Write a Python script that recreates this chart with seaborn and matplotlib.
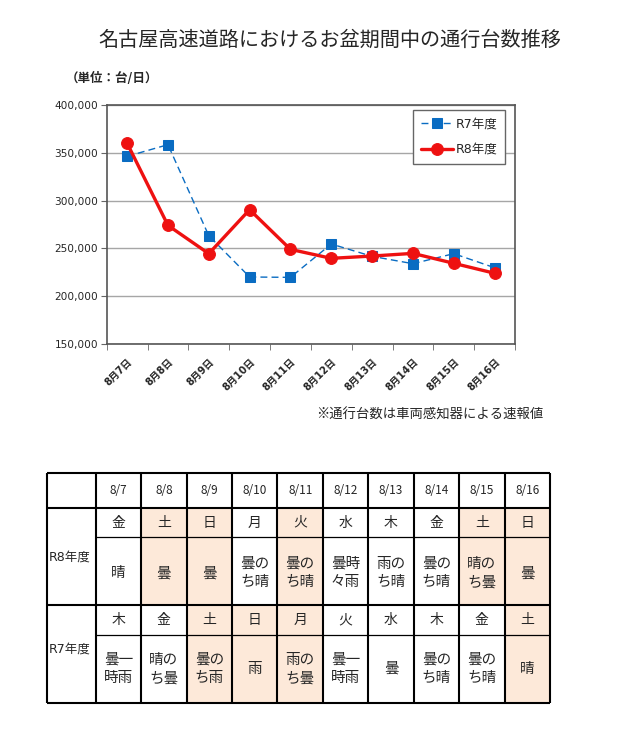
import matplotlib
matplotlib.use("Agg")
import matplotlib.pyplot as plt
import numpy as np
import seaborn as sns

# chart data
dates = ['8月7日', '8月8日', '8月9日', '8月10日', '8月11日',
         '8月12日', '8月13日', '8月14日', '8月15日', '8月16日']
r7_traffic = [346300, 358500, 263300, 220100, 219700, 254600, 241700, 234000, 244500, 229800]
r8_traffic = [360000, 274100, 244500, 290500, 249000, 239600, 242000, 244800, 234400, 224000]

# table data
short_dates = ['8/7', '8/8', '8/9', '8/10', '8/11', '8/12', '8/13', '8/14', '8/15', '8/16']
r8_days = ['金', '土', '日', '月', '火', '水', '木', '金', '土', '日']
r8_weather = ['晴', '曇', '曇', '曇の\nち晴', '曇の\nち晴', '曇時\n々雨', '雨の\nち晴', '曇の\nち晴', '晴の\nち曇', '曇']
r8_holiday = [0, 1, 1, 0, 1, 0, 0, 0, 1, 1]
r7_days = ['木', '金', '土', '日', '月', '火', '水', '木', '金', '土']
r7_weather = ['曇一\n時雨', '晴の\nち曇', '曇の\nち雨', '雨', '雨の\nち曇', '曇一\n時雨', '曇', '曇の\nち晴', '曇の\nち晴', '晴']
r7_holiday = [0, 0, 1, 1, 1, 0, 0, 0, 0, 1]

sns.set_style("white")
plt.rcParams['font.family'] = ['Noto Sans CJK JP', 'DejaVu Sans']

blue = '#0a6cc2'
red = '#ee1111'
peach = '#fde9d9'
latin = ['DejaVu Sans', 'Noto Sans CJK JP']

fig = plt.figure(figsize=(6.34, 7.54), dpi=100)

# ---- line chart ----
ax = fig.add_axes([106.7 / 634, 1 - 344 / 754, 408.3 / 634, 239 / 754])
x = np.arange(len(dates))
sns.lineplot(x=x, y=r7_traffic, ax=ax, color=blue, marker='s', markersize=7,
             markeredgecolor=blue, linewidth=1, linestyle=(0, (5, 3)), label='R7年度')
sns.lineplot(x=x, y=r8_traffic, ax=ax, color=red, marker='o', markersize=8.5,
             markeredgecolor=red, linewidth=2.4, label='R8年度')

ax.set_xlim(-0.5, 9.5)
ax.set_ylim(150000, 400000)
ax.set_yticks(np.arange(150000, 400001, 50000))
ax.set_yticklabels([f'{v:,}' for v in range(150000, 400001, 50000)],
                   family=latin, fontsize=7.6)
ax.yaxis.grid(True, color='#a6a6a6', linewidth=1)
ax.set_axisbelow(True)
ax.set_xticks(x)
ax.set_xticklabels(dates, rotation=45, ha='right', va='top', rotation_mode='anchor',
                   family=latin, fontsize=7.2, fontweight='bold')
ax.set_xticks(np.arange(-0.5, 10, 1), minor=True)
ax.tick_params(axis='x', which='major', length=0, pad=9)
ax.tick_params(axis='x', which='minor', length=4, color='#666666', direction='out', bottom=True)
ax.tick_params(axis='y', length=4, color='#666666', direction='out', left=True, pad=2)
for s in ax.spines.values():
    s.set_color('#555555')
    s.set_linewidth(1.2)
ax.set_xlabel('')
ax.set_ylabel('')

leg = ax.legend(loc='upper right', bbox_to_anchor=(0.9755, 0.979), borderaxespad=0,
                frameon=True, fancybox=False, edgecolor='#666666', framealpha=1,
                handlelength=2.6, handletextpad=0.2, labelspacing=1.0,
                borderpad=0.6, prop={'family': latin, 'size': 9})
leg.get_frame().set_linewidth(1.0)

fig.text(330 / 634, 1 - 40 / 754, '名古屋高速道路におけるお盆期間中の通行台数推移',
         ha='center', va='center', fontsize=14.5)
fig.text(66 / 634, 1 - 78 / 754, '（単位：台/日）', ha='left', va='center',
         fontsize=9, fontweight='bold')
fig.text(543 / 634, 1 - 415 / 754, '※通行台数は車両感知器による速報値', ha='right', va='center',
         fontsize=9.6)

# ---- weather table ----
tab = fig.add_axes([46.7 / 634, 1 - 702.7 / 754, 503.3 / 634, 229.4 / 754])
first_w = 49 / 45.33
tab.set_xlim(-first_w, 10)
row_edges = [0, 35, 64, 131.7, 161.7, 229.4]
tab.set_ylim(row_edges[-1], 0)
tab.axis('off')

cols = np.arange(10)
for flags, top, bottom in [(r8_holiday, row_edges[1], row_edges[3]),
                           (r7_holiday, row_edges[3], row_edges[5])]:
    sel = [c for c, f in zip(cols, flags) if f]
    tab.bar(np.array(sel) + 0.5, bottom - top, bottom=top, width=1,
            color=peach, linewidth=0, zorder=1)

lw_thick = 1.5
lw_thin = 0.9
line_kw = dict(color='black', clip_on=False, zorder=3)
tab.hlines([row_edges[0], row_edges[1], row_edges[3], row_edges[5]], -first_w, 10,
           linewidth=lw_thick, **line_kw)
tab.hlines([row_edges[2], row_edges[4]], 0, 10, linewidth=lw_thin, **line_kw)
tab.vlines(np.concatenate([[-first_w], np.arange(0, 11)]), 0, row_edges[-1],
           linewidth=lw_thick, **line_kw)

def mid(a, b):
    return (row_edges[a] + row_edges[b]) / 2

for c in cols:
    tab.text(c + 0.5, mid(0, 1), short_dates[c], ha='center', va='center', fontsize=8.5, zorder=4)
    tab.text(c + 0.5, mid(1, 2), r8_days[c], ha='center', va='center', fontsize=10, zorder=4)
    tab.text(c + 0.5, mid(2, 3) + 2, r8_weather[c], ha='center', va='center', fontsize=10.5,
             linespacing=1.4, zorder=4)
    tab.text(c + 0.5, mid(3, 4), r7_days[c], ha='center', va='center', fontsize=10, zorder=4)
    tab.text(c + 0.5, mid(4, 5), r7_weather[c], ha='center', va='center', fontsize=10.5,
             linespacing=1.4, zorder=4)

tab.text(-first_w + 0.04, mid(1, 3), 'R8年度', ha='left', va='center', fontsize=9,
         family=latin, zorder=4)
tab.text(-first_w + 0.04, mid(3, 5) - 5, 'R7年度', ha='left', va='center', fontsize=9,
         family=latin, zorder=4)

fig.savefig('out.png', dpi=100)
